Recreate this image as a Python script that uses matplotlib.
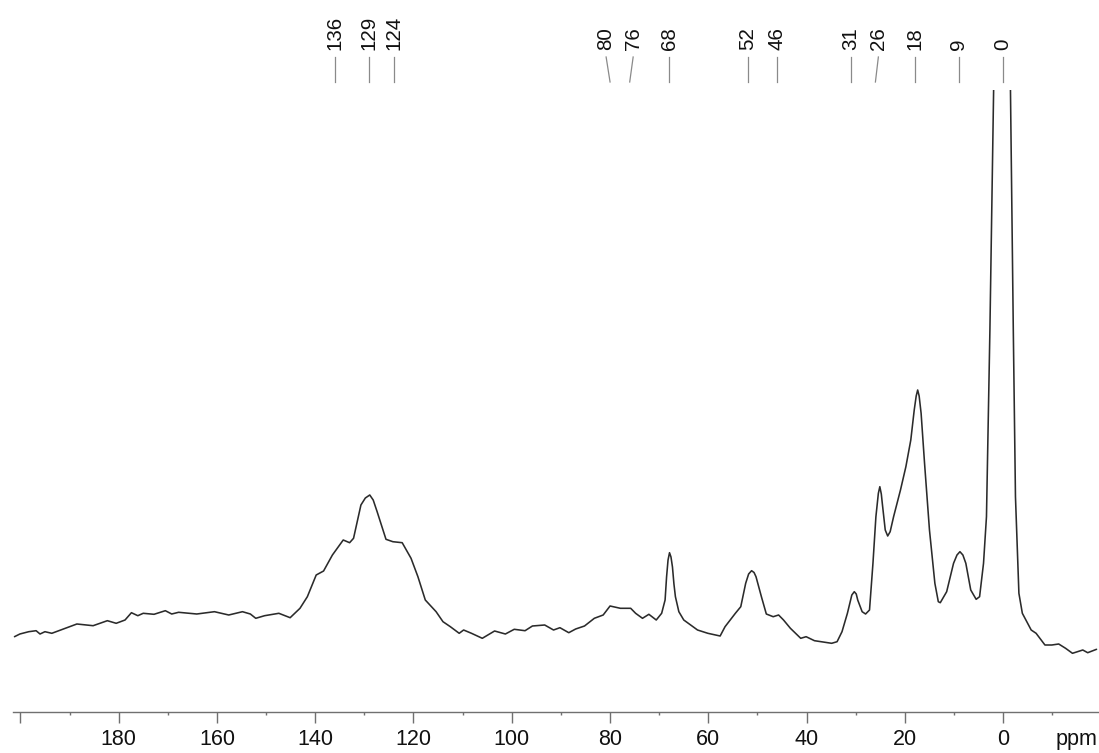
import matplotlib
matplotlib.use("Agg")
import matplotlib.pyplot as plt
import matplotlib.transforms as mtransforms
from matplotlib.ticker import MultipleLocator, FixedLocator

plt.rcParams['font.family'] = ['Liberation Sans', 'DejaVu Sans']

# 13C CP/MAS spectrum: chemical shift (ppm) and intensity (arb. units)
shift_ppm = [201.2, 200.1, 198.3, 196.8, 196.0, 195.0, 193.6, 191.8, 188.5, 185.2,
             182.3, 180.5, 178.7, 177.4, 176.1, 175.0, 172.8, 170.5, 169.2, 167.8,
             164.1, 160.5, 157.6, 154.8, 153.2, 152.1, 150.3, 147.4, 145.1, 143.1,
             141.6, 139.8, 138.3, 136.5, 134.3, 133.0, 132.2, 130.7, 129.8, 128.9,
             128.2, 127.4, 125.6, 124.2, 122.3, 120.5, 119.1, 117.6, 115.4, 114.0,
             112.5, 110.7, 109.8, 108.2, 106.0, 103.5, 101.3, 99.5, 97.3, 95.8,
             93.3, 91.5, 90.2, 88.4, 87.0, 85.2, 83.2, 81.4, 80.0, 77.9,
             75.8, 74.8, 73.4, 72.1, 70.6, 69.5, 68.8, 68.5, 68.2, 67.9,
             67.6, 67.3, 67.0, 66.7, 66.0, 65.0, 63.6, 62.2, 60.1, 57.6,
             56.6, 54.5, 53.4, 52.4, 51.8, 51.2, 50.7, 50.3, 49.2, 48.2,
             46.8, 45.7, 44.7, 43.3, 41.2, 40.1, 38.4, 34.9, 33.8, 32.8,
             31.7, 30.8, 30.3, 29.9, 29.6, 28.7, 28.0, 27.2, 26.5, 25.9,
             25.4, 25.1, 24.8, 24.6, 24.0, 23.5, 23.0, 22.3, 20.9, 19.8,
             18.8, 18.1, 17.7, 17.4, 17.1, 16.7, 16.0, 15.0, 13.9, 13.2,
             12.8, 11.5, 10.1, 9.4, 8.8, 8.2, 7.6, 6.6, 5.5, 4.8,
             4.0, 3.4, 2.7, 0.0, -2.06, -2.5, -3.2, -3.9, -5.7, -6.7,
             -8.5, -9.9, -11.3, -12.7, -14.1, -15.1, -16.2, -17.2, -19.0]

intensity = [75.3, 78.0, 80.3, 81.3, 78.0, 80.3, 78.7, 82.0, 88.0, 86.3,
             91.3, 88.7, 92.0, 99.3, 96.3, 98.7, 97.7, 101.3, 98.0, 99.7,
             98.0, 100.3, 97.0, 100.3, 98.0, 93.7, 96.3, 98.7, 94.3, 103.7,
             115.3, 137.0, 141.0, 157.0, 172.0, 169.3, 173.7, 207.0, 214.0, 217.0,
             212.0, 200.3, 172.7, 170.3, 169.3, 153.7, 135.3, 112.0, 100.3, 90.3,
             85.3, 78.7, 82.0, 78.7, 73.7, 81.0, 78.0, 82.7, 81.3, 86.0,
             87.0, 82.0, 84.3, 79.3, 83.0, 86.0, 93.7, 97.0, 106.0, 103.7,
             103.7, 98.7, 93.7, 97.7, 92.0, 98.7, 112.0, 135.0, 152.0, 159.3,
             155.0, 145.0, 128.0, 115.3, 100.3, 92.0, 87.0, 82.0, 78.7, 76.0,
             85.3, 98.7, 105.3, 128.7, 138.0, 141.3, 139.5, 135.3, 115.3, 98.0,
             95.3, 97.0, 92.0, 83.7, 73.7, 75.3, 71.3, 68.7, 70.3, 80.3,
             98.7, 117.0, 120.3, 118.0, 112.0, 100.3, 98.0, 102.0, 148.7, 195.3,
             218.7, 225.3, 218.0, 208.7, 182.0, 176.0, 180.3, 195.3, 222.0, 245.3,
             272.0, 302.0, 316.0, 322.0, 316.0, 298.7, 248.7, 182.0, 128.7, 110.3,
             109.3, 120.3, 148.7, 157.0, 160.3, 157.0, 148.7, 122.0, 112.7, 115.3,
             148.7, 195.3, 382.0, 1239.0, 382.0, 215.3, 118.7, 98.7, 82.0, 78.7,
             67.0, 67.0, 68.0, 63.7, 58.7, 60.3, 62.0, 59.3, 62.7]

# peak picking labels
peak_labels = ["136", "129", "124", "80", "76", "68", "52", "46",
               "31", "26", "18", "9", "0"]
# small sideways shifts of the label text so neighbouring labels don't collide
label_shift = [0, 0, 0, 0.8, -0.7, 0, 0, 0, 0, -0.6, 0, 0, 0]

x_major = [200, 180, 160, 140, 120, 100, 80, 60, 40, 20, 0]
x_major_labels = ["", "180", "160", "140", "120", "100", "80", "60", "40", "20", "0"]

W, H = 1099, 753
fig = plt.figure(figsize=(W / 100, H / 100), dpi=100)
ax = fig.add_axes([13 / W, 41 / H, 1086 / W, 622 / H])

ax.plot(shift_ppm, intensity, color="#2b2b2b", lw=1.15,
        solid_joinstyle="round", solid_capstyle="round")

ax.set_xlim(201.5, -19.5)
ax.set_ylim(0, 622)

for side in ("left", "right", "top"):
    ax.spines[side].set_visible(False)
ax.spines["bottom"].set_color("#707070")
ax.spines["bottom"].set_linewidth(1.0)
ax.set_yticks([])

ax.xaxis.set_major_locator(FixedLocator(x_major))
ax.set_xticklabels(x_major_labels)
ax.xaxis.set_minor_locator(MultipleLocator(10))
ax.tick_params(axis="x", which="major", direction="out", length=8, width=1.0,
               color="#707070", labelsize=15.5, pad=4.5, labelcolor="#111111")
ax.tick_params(axis="x", which="minor", direction="out", length=2.5, width=1.0,
               color="#707070")

ax.annotate("ppm", xy=(-15, 0), xycoords=("data", "axes fraction"),
            xytext=(0, -12.5), textcoords="offset points",
            ha="center", va="top", fontsize=15.5, color="#111111")

# peak labels with leader lines above the spectrum
blend = mtransforms.blended_transform_factory(ax.transData, ax.transAxes)
y_line_top = (712 - 57) / 622
y_line_bot = (712 - 82) / 622
y_text = (712 - 50) / 622
for lab, dx in zip(peak_labels, label_shift):
    pos = float(lab)
    tx = pos + dx
    ax.plot([tx, pos], [y_line_top, y_line_bot], color="#8a8a8a", lw=0.9,
            transform=blend, clip_on=False)
    ax.text(tx, y_text, lab, rotation=90, ha="center", va="bottom",
            fontsize=14.8, color="#111111", transform=blend)

fig.savefig("out.png", dpi=100)
